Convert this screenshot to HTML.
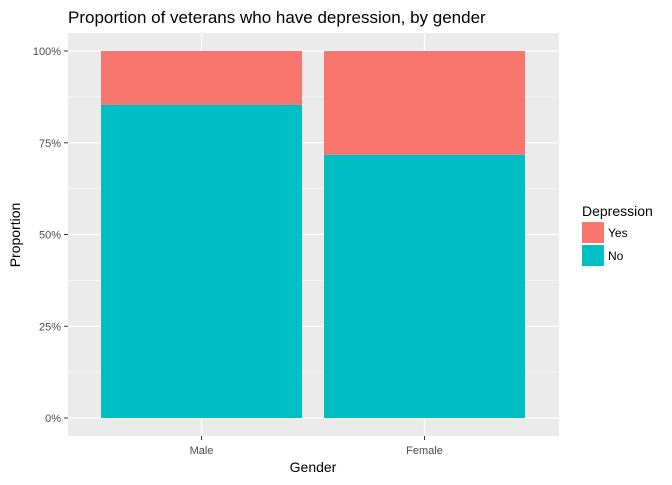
<!DOCTYPE html>
<html><head><meta charset="utf-8"><style>
body{margin:0;background:#fff;font-family:"Liberation Sans",Arial,sans-serif;}
svg text{font-family:"Liberation Sans",Arial,sans-serif;}
</style></head><body>
<svg id="c" width="672" height="480">
<text x="68" y="23" font-size="17" fill="#000">Proportion of veterans who have depression, by gender</text>
<rect x="68" y="33" width="491" height="403" fill="#ebebeb"/>
<g id="grid"></g><g id="bars"></g><g id="axes"></g>
<text x="313" y="472" font-size="14" text-anchor="middle">Gender</text>
<text transform="translate(20,235) rotate(-90)" font-size="14" text-anchor="middle">Proportion</text>
<g>
<text x="582" y="216" font-size="14">Depression</text>
<rect x="582" y="222" width="22" height="21" fill="#f8766d"/>
<text x="608" y="237" font-size="12">Yes</text>
<rect x="582" y="245" width="22" height="21" fill="#00bfc4"/>
<text x="608" y="260" font-size="12">No</text>
</g>
</svg>
<script>
const categories=["Male","Female"];
const noValues=[0.853,0.717];
const tickValues=[0,0.25,0.5,0.75,1];
const tickLabels=["0%","25%","50%","75%","100%"];
const NS="http://www.w3.org/2000/svg";
const y=v=>418-v*367;
const x=i=>201.5+i*223;
function mk(t,a,p){const e=document.createElementNS(NS,t);for(const k in a)e.setAttribute(k,a[k]);p.appendChild(e);return e;}
const g=document.getElementById('grid'),b=document.getElementById('bars'),ax=document.getElementById('axes');
for(let i=0;i<tickValues.length-1;i++){const m=(tickValues[i]+tickValues[i+1])/2;
const l=mk('line',{x1:68,x2:559,y1:y(m),y2:y(m),stroke:'#fff','stroke-width':0.6},g);

}
tickValues.forEach((v,i)=>{
const l=mk('line',{x1:68,x2:559,y1:y(v),y2:y(v),stroke:'#fff','stroke-width':1.2},g);


mk('line',{x1:64,x2:68,y1:y(v),y2:y(v),stroke:'#333'},ax);
const t=mk('text',{x:61,y:y(v)+4,'font-size':11,fill:'#4d4d4d','text-anchor':'end'},ax);t.textContent=tickLabels[i];

});
categories.forEach((c,i)=>{
const l=mk('line',{x1:x(i),x2:x(i),y1:33,y2:436,stroke:'#fff','stroke-width':1.2},g);


mk('line',{x1:x(i),x2:x(i),y1:436,y2:440,stroke:'#333'},ax);
const t=mk('text',{x:x(i),y:454,'font-size':11,fill:'#4d4d4d','text-anchor':'middle'},ax);t.textContent=c;


const r1=mk('rect',{x:x(i)-100.5,width:201,y:y(1),height:y(noValues[i])-y(1),fill:'#f8766d'},b);


const r2=mk('rect',{x:x(i)-100.5,width:201,y:y(noValues[i]),height:y(0)-y(noValues[i]),fill:'#00bfc4'},b);

});
</script>
</body></html>
